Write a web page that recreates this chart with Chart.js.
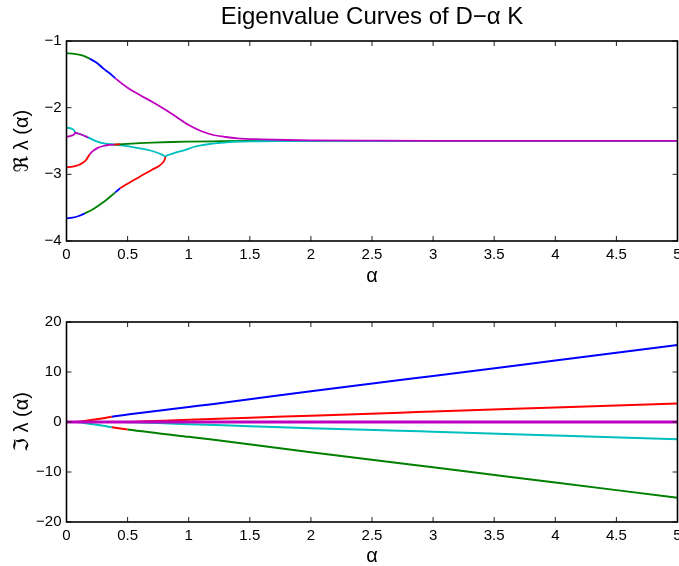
<!DOCTYPE html>
<html>
<head>
<meta charset="utf-8">
<script src="https://cdn.jsdelivr.net/npm/chart.js@4.4.1/dist/chart.umd.min.js"></script>
<style>
  html, body { margin: 0; padding: 0; background: #fff; }
  #wrap { position: relative; width: 679px; height: 566px; overflow: hidden; background: #fff; }
  canvas { position: absolute; left: 0; }
  #c1 { top: 0; }
  #c2 { top: 290px; }
</style>
</head>
<body>
<div id="wrap">
  <canvas id="c1" width="679" height="290"></canvas>
  <canvas id="c2" width="679" height="276"></canvas>
</div>
<script>
// ---------- text ----------
const chartTitle = 'Eigenvalue Curves of D\u2212\u03b1 K';
const xLabel = '\u03b1';
const reLabel = '\u211c \u03bb (\u03b1)';
const imLabel = '\u2111 \u03bb (\u03b1)';

// ---------- tick values ----------
const xTicks = [0, 0.5, 1, 1.5, 2, 2.5, 3, 3.5, 4, 4.5, 5];
const reTicks = [-4, -3, -2, -1];
const imTicks = [-20, -10, 0, 10, 20];

// ---------- real parts (top panel) ----------
const reA1 = [0, 0.05, 0.1, 0.15, 0.19, 0.25, 0.3, 0.35, 0.4, 0.5, 0.6, 0.7, 0.8, 0.9, 1.0, 1.1, 1.2, 1.3, 1.4, 1.6, 1.8, 2.0, 2.5, 3, 4, 5];
const reV1 = [-1.185, -1.19, -1.205, -1.23, -1.265, -1.33, -1.41, -1.48, -1.56, -1.70, -1.81, -1.91, -2.02, -2.14, -2.26, -2.35, -2.41, -2.44, -2.46, -2.475, -2.485, -2.49, -2.495, -2.497, -2.497, -2.497];

const reA2 = [0, 0.05, 0.1, 0.15, 0.22, 0.3, 0.4, 0.44, 0.5, 0.6, 0.7, 0.76, 0.79, 0.805, 0.81, 0.85, 0.9, 0.96, 1.04, 1.1, 1.17, 1.25, 1.31, 1.4, 1.5, 1.75, 2, 3, 5];
const reV2 = [-3.66, -3.65, -3.625, -3.585, -3.52, -3.42, -3.27, -3.21, -3.14, -3.035, -2.93, -2.87, -2.82, -2.77, -2.735, -2.70, -2.67, -2.64, -2.59, -2.565, -2.545, -2.53, -2.52, -2.51, -2.505, -2.5, -2.5, -2.5, -2.5];

const reA3 = [0, 0.02, 0.04, 0.055, 0.065, 0.072, 0.09, 0.13, 0.18, 0.24, 0.29, 0.34, 0.39, 0.45, 0.51, 0.6, 0.7, 0.75, 0.78, 0.8, 0.81];
const reV3 = [-2.30, -2.305, -2.315, -2.33, -2.35, -2.375, -2.385, -2.41, -2.45, -2.50, -2.53, -2.545, -2.553, -2.565, -2.58, -2.61, -2.65, -2.68, -2.705, -2.725, -2.735];

const reA4 = [0, 0.02, 0.04, 0.055, 0.065, 0.072, 0.09, 0.13, 0.18, 0.24, 0.29, 0.34, 0.39, 0.5, 0.6, 0.7, 0.86, 1.0, 1.2, 1.5, 2, 3, 5];
const reV4 = [-2.435, -2.43, -2.42, -2.41, -2.395, -2.375, -2.385, -2.41, -2.45, -2.50, -2.53, -2.545, -2.553, -2.542, -2.533, -2.525, -2.515, -2.51, -2.505, -2.5, -2.5, -2.5, -2.5];

const reA5 = [0, 0.05, 0.1, 0.13, 0.16, 0.19, 0.22, 0.26, 0.3, 0.34, 0.39, 0.44];
const reV5 = [-2.895, -2.885, -2.86, -2.83, -2.785, -2.70, -2.645, -2.60, -2.575, -2.56, -2.553, -2.55];

// ---------- imaginary parts (bottom panel) ----------
const imA1 = [0, 0.08, 0.13, 0.2, 0.3, 0.37, 0.5, 1, 1.19, 2, 2.73, 3, 4, 5];
const imV1 = [0, 0, 0.13, 0.4, 0.75, 1.05, 1.5, 3.0, 3.55, 6.15, 8.4, 9.2, 12.3, 15.4];

const imA2 = [0, 0.08, 0.13, 0.2, 0.3, 0.37, 0.5, 1, 1.19, 2, 2.73, 3, 4, 5];
const imV2 = [0, 0, -0.13, -0.4, -0.75, -1.05, -1.5, -2.97, -3.5, -6.05, -8.27, -9.05, -12.1, -15.15];

const imA3 = [0, 0.45, 0.6, 0.8, 1, 1.5, 2, 2.73, 3, 4, 5];
const imV3 = [0, 0, 0.08, 0.25, 0.45, 0.85, 1.27, 1.87, 2.08, 2.9, 3.72];

const imA4 = [0, 0.45, 0.6, 0.8, 1, 1.5, 2, 2.73, 3, 4, 5];
const imV4 = [0, 0, -0.08, -0.25, -0.43, -0.83, -1.25, -1.73, -1.95, -2.72, -3.47];

const imA5 = [0, 5];
const imV5 = [0, 0];

// ---------- styling ----------
const B = '#0000ff', G = '#008000', R = '#ff0000', C = '#00bfbf', M = '#bf00bf';
const FONT = "'Liberation Sans', Arial, Helvetica, 'DejaVu Sans', sans-serif";

function pts(a, v) { return a.map((x, i) => ({x: x, y: v[i]})); }
function segColor(breaks) {
  return ctx => {
    const x = ctx.p0.parsed.x;
    for (const [end, c] of breaks) { if (x < end - 1e-9) return c; }
    return breaks[breaks.length - 1][1];
  };
}
function line(a, v, breaks, width) {
  return {
    data: pts(a, v),
    borderColor: breaks[0][1],
    borderWidth: width,
    pointRadius: 0,
    fill: false,
    cubicInterpolationMode: 'monotone',
    segment: { borderColor: segColor(breaks) }
  };
}

const boxPlugin = {
  id: 'matlabBox',
  afterDraw(chart) {
    const {ctx, chartArea: a} = chart;
    const xs = chart.scales.x, ys = chart.scales.y;
    const L = 5;
    ctx.save();
    ctx.strokeStyle = '#222';
    ctx.lineWidth = 1;
    ctx.beginPath();
    xs.ticks.forEach(t => {
      const p = xs.getPixelForValue(t.value);
      ctx.moveTo(p, a.bottom); ctx.lineTo(p, a.bottom - L);
      ctx.moveTo(p, a.top); ctx.lineTo(p, a.top + L);
    });
    ys.ticks.forEach(t => {
      const p = ys.getPixelForValue(t.value);
      ctx.moveTo(a.left, p); ctx.lineTo(a.left + L, p);
      ctx.moveTo(a.right, p); ctx.lineTo(a.right - L, p);
    });
    ctx.stroke();
    ctx.strokeStyle = '#000';
    ctx.lineWidth = 1.6;
    ctx.strokeRect(a.left, a.top, a.right - a.left, a.bottom - a.top);
    ctx.restore();
  }
};

const titlePlugin = {
  id: 'topTitle',
  afterDraw(chart, args, opts) {
    if (!opts || !opts.text) return;
    const {ctx, chartArea: a} = chart;
    ctx.save();
    ctx.fillStyle = '#000';
    ctx.font = opts.size + 'px ' + FONT;
    ctx.textAlign = 'center';
    ctx.textBaseline = 'middle';
    ctx.fillText(opts.text, (a.left + a.right) / 2, opts.y);
    ctx.restore();
  }
};

const fmt = v => String(v).replace('-', '\u2212');

function makeChart(id, datasets, yMin, yMax, yTicks, yTitle, opt) {
  return new Chart(document.getElementById(id), {
    type: 'line',
    data: { datasets: datasets },
    plugins: [boxPlugin, titlePlugin],
    options: {
      responsive: false,
      animation: false,
      devicePixelRatio: 1,
      layout: { padding: { top: opt.padTop, right: 1.5, left: 0, bottom: 0 } },
      plugins: {
        legend: { display: false },
        tooltip: { enabled: false },
        topTitle: opt.title
      },
      scales: {
        x: {
          type: 'linear', min: 0, max: 5,
          grid: { display: false, drawTicks: false },
          border: { display: false },
          afterBuildTicks: s => { s.ticks = xTicks.map(v => ({value: v})); },
          afterFit: s => { s.height = opt.xHeight; s.paddingLeft = 0; s.paddingRight = 0; },
          ticks: { autoSkip: false, maxRotation: 0, padding: 5, color: '#000', font: { family: FONT, size: 15 }, callback: fmt },
          title: { display: true, text: xLabel, color: '#000', font: { family: FONT, size: 20 }, padding: { top: 0, bottom: opt.xTitlePad } }
        },
        y: {
          type: 'linear', min: yMin, max: yMax,
          grid: { display: false, drawTicks: false },
          border: { display: false },
          afterBuildTicks: s => { s.ticks = yTicks.map(v => ({value: v})); },
          afterFit: s => { s.width = 66.5; },
          ticks: { autoSkip: false, padding: 5, color: '#000', font: { family: FONT, size: 15 }, callback: fmt },
          title: { display: true, text: yTitle, color: '#000', font: { family: FONT, size: 20 }, padding: { top: 10, bottom: 0 } }
        }
      }
    }
  });
}

// top panel: dataset 0 drawn on top
const reSets = [
  line(reA1, reV1, [[0.19, G], [0.40, B], [Infinity, M]], 1.8),
  line(reA5, reV5, [[0.19, R], [0.39, M], [Infinity, R]], 1.8),
  line(reA2, reV2, [[0.15, B], [0.40, G], [0.44, B], [0.81, R], [Infinity, C]], 1.8),
  line(reA4, reV4, [[0.15, M], [0.39, C], [Infinity, G]], 1.8),
  line(reA3, reV3, [[Infinity, C]], 1.8)
];

const imSets = [
  line(imA5, imV5, [[Infinity, M]], 3),
  line(imA3, imV3, [[Infinity, R]], 2),
  line(imA4, imV4, [[Infinity, C]], 2),
  line(imA1, imV1, [[0.08, B], [0.37, R], [Infinity, B]], 2),
  line(imA2, imV2, [[0.08, G], [0.37, C], [0.42, R], [Infinity, G]], 2)
];

makeChart('c1', reSets, -4, -1, reTicks, reLabel,
  { padTop: 41, xHeight: 49, xTitlePad: 2, title: { text: chartTitle, size: 24, y: 17 } });
makeChart('c2', imSets, -20, 20, imTicks, imLabel,
  { padTop: 32, xHeight: 44, xTitlePad: -2, title: { text: '', size: 0, y: 0 } });
</script>
</body>
</html>
